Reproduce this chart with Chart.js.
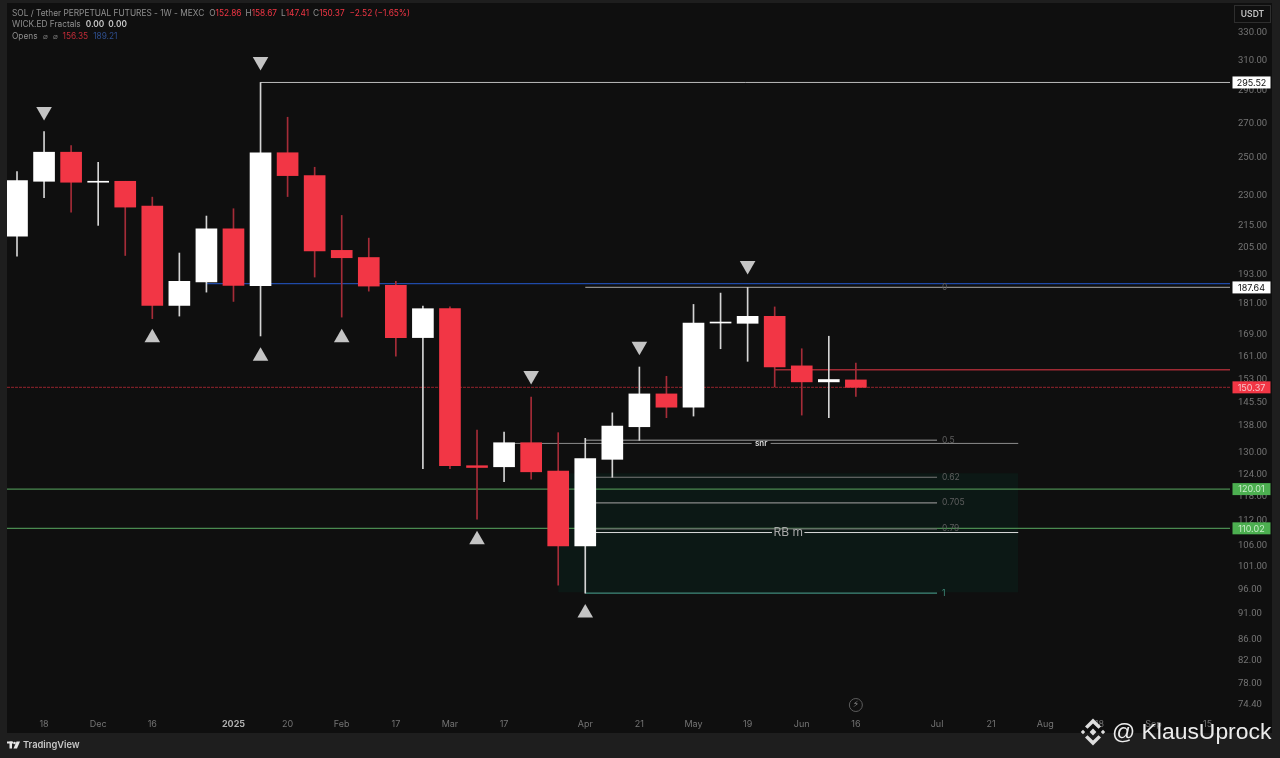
<!DOCTYPE html>
<html><head><meta charset="utf-8">
<script src="https://cdn.jsdelivr.net/npm/chart.js@4"></script>
<style>html,body{margin:0;padding:0;background:#0f0f0f;overflow:hidden}canvas{display:block}</style>
</head><body><canvas id="c" width="1280" height="758"></canvas>
<script>
const opens  = [210.2,237.4,253.2,236.9,237.4,224.7,180.3,189.9,213.7,188.4,252.9,240.4,203.7,200.5,188.5,167.9,179.0,126.4,126.1,133.0,124.9,105.8,128.2,137.8,148.2,143.9,173.4,173.3,176.0,157.7,152.2,152.86];
const closes = [237.8,253.2,236.9,237.4,224.2,180.3,190.2,213.7,188.5,252.9,240.4,203.4,200.4,188.2,167.9,179.0,126.4,125.9,133.0,124.7,105.8,128.4,138.0,148.2,143.9,173.4,173.6,176.0,157.3,152.2,153.0,150.37];
const highs  = [242.6,265.1,257.0,247.6,237.4,229.2,202.5,219.8,223.4,295.52,273.6,244.9,220.1,209.3,190.2,180.0,179.7,136.8,136.2,147.2,136.0,134.3,142.1,157.3,154.1,180.7,185.3,187.64,179.7,163.8,168.4,158.67];
const lows   = [201.1,228.9,221.7,215.3,201.4,175.1,176.1,185.7,181.9,168.5,229.5,192.0,175.7,186.1,161.1,125.6,125.6,112.3,122.0,122.7,97.0,95.3,123.2,133.7,140.6,141.1,163.8,159.3,150.5,141.4,140.6,147.41];
const xTickIndex  = [1,3,5,8,10,12,14,16,18,21,23,25,27,29,31,34,36,38,40,42,44];
const xTickLabels = ['18','Dec','16','2025','20','Feb','17','Mar','17','Apr','21','May','19','Jun','16','Jul','21','Aug','18','Sep','15'];
const yTicks = [330,310,290,270,250,230,215,205,193,181,169,161,153,145.5,138,130,124,118,112,106,101,96,91,86,82,78,74.4];
const fractalUpIdx = [5,9,12,17,21];
const fractalUpVal = [167.8,161.1,167.8,107.3,91.2];
const fractalDownIdx = [1,9,19,23,27];
const fractalDownVal = [277.1,309.5,154.4,164.7,197.0];
const fibLevels = [187.64,133.7,123.2,116.4,109.9,95.3];
const fibNames  = ['0','0.5','0.62','0.705','0.79','1'];
const zoneRange = [20,37,124.3,95.5];
const pricePills = [[295.52,'#ffffff','#111111'],[187.64,'#ffffff','#111111'],[150.37,'#f23645','#f6c6cb'],[120.01,'#4caf50','#c8ecc9'],[110.02,'#4caf50','#c8ecc9']];
const xMin=-0.3695, xMax=44.826, yMin=73.07, yMax=347;
const RED='#f23645', WHITE='#ffffff', BG='#0f0f0f', PANEL='#1e1e1e';
const indices = opens.map((_,i)=>i);
function seg(a,b,v,color,w,extra){return Object.assign({type:'line',data:[{x:a,y:v},{x:b,y:v}],borderColor:color,borderWidth:w||1,pointRadius:0,order:3,fill:false},extra||{});}
const datasets=[
 {type:'scatter',data:fractalUpIdx.map((x,i)=>({x,y:fractalUpVal[i]})),pointStyle:'triangle',pointRadius:9,pointRotation:0,backgroundColor:'#c4c4c4',borderWidth:0,order:0},
 {type:'scatter',data:fractalDownIdx.map((x,i)=>({x,y:fractalDownVal[i]})),pointStyle:'triangle',pointRadius:9,pointRotation:180,backgroundColor:'#c4c4c4',borderWidth:0,order:0},
 {type:'bar',data:indices.map(i=>({x:i,y:[opens[i],closes[i]]})),backgroundColor:indices.map(i=>closes[i]>=opens[i]?WHITE:RED),barThickness:21,grouped:false,minBarLength:1,order:1},
 {type:'bar',data:indices.map(i=>({x:i,y:[lows[i],highs[i]]})),backgroundColor:indices.map(i=>closes[i]>=opens[i]?'#d4d4d4':'#a52c38'),barThickness:1,grouped:false,order:2},
 seg(9,xMax,295.52,'#bdbdbd',1),
 seg(7,xMax,189.21,'#1f4aa8',1.4),
 seg(21,xMax,187.64,'#8a8a8a',1.2),
 seg(21,34,133.7,'#6e6e6e',1.5),
 seg(21,34,123.2,'#777777',1.2),
 seg(21,34,116.4,'#888888',1.2),
 seg(21,34,109.9,'#6a6a6a',1.2),
 seg(21,34,95.3,'#3f8c7c',1.4),
 {type:'line',data:[{x:18,y:132.8},{x:27.15,y:132.8},{x:27.5,y:null},{x:27.85,y:132.8},{x:37,y:132.8}],borderColor:'#8c8c8c',borderWidth:1,pointRadius:0,order:3,fill:false,spanGaps:false},
 {type:'line',data:[{x:21,y:109.0},{x:27.9,y:109.0},{x:28.5,y:null},{x:29.1,y:109.0},{x:37,y:109.0}],borderColor:'#dcdcdc',borderWidth:1,pointRadius:0,order:3,fill:false,spanGaps:false},
 seg(xMin,xMax,120.01,'#4a8a50',1.2),
 seg(xMin,xMax,110.02,'#4a8a50',1.2),
 seg(xMin,xMax,150.37,'#7a1f26',1.4,{borderDash:[3,1]}),
 seg(28,xMax,156.35,'#a02a34',1.3),
 {type:'line',data:[{x:zoneRange[0],y:zoneRange[2]},{x:zoneRange[1],y:zoneRange[2]}],borderWidth:0,pointRadius:0,fill:{value:zoneRange[3]},backgroundColor:'#0c1815',order:4}
];
const textFont=(s,b)=>(b?'600 ':'')+s+'px Inter, Roboto, sans-serif';
function runs(ctx,x,y,items,size){items.forEach(it=>{ctx.font=textFont(size,it[2]);ctx.fillStyle=it[1];ctx.fillText(it[0],x,y);x+=ctx.measureText(it[0]).width+(it[3]||0);});}
const panels={id:'panels',beforeDraw(ch){const c=ch.ctx;c.save();c.fillStyle=BG;c.fillRect(0,0,1280,758);c.fillStyle=PANEL;
 c.fillRect(0,0,7,758);c.fillRect(0,733,1280,25);c.fillRect(1272,0,8,758);c.fillRect(0,0,1280,3);c.restore();}};
const overlay={id:'overlay',afterDraw(ch){const c=ch.ctx,ys=ch.scales.y,xs=ch.scales.x;c.save();c.textBaseline='middle';c.textAlign='left';
 runs(c,12,14,[['SOL / Tether PERPETUAL FUTURES - 1W - MEXC','#8f8f8f',false,5],['O','#8f8f8f'],['152.86',RED,false,4],['H','#8f8f8f'],['158.67',RED,false,4],['L','#8f8f8f'],['147.41',RED,false,4],['C','#8f8f8f'],['150.37',RED,false,5],['\u22122.52 (\u22121.65%)',RED]],8.3);
 runs(c,12,25,[['WICK.ED Fractals','#8f8f8f',false,5],['0.00','#c8c8c8',true,4],['0.00','#c8c8c8',true]],8.3);
 runs(c,12,37,[['Opens','#8f8f8f',false,5],['\u2300','#777777',false,5],['\u2300','#777777',false,5],['156.35','#c22c38',false,5],['189.21','#2f4f8f']],8.3);
 c.font=textFont(8.5);fibLevels.forEach((v,i)=>{c.fillStyle=i===5?'#3f8c7c':'#5e5e5e';c.fillText(fibNames[i],xs.getPixelForValue(34.18),ys.getPixelForValue(v));});
 c.textAlign='center';c.font=textFont(8,true);c.fillStyle='#d8d8d8';c.fillText('snr',xs.getPixelForValue(27.5),ys.getPixelForValue(132.8));
 c.font=textFont(12);c.fillStyle='#a8a8a8';c.fillText('RB m',xs.getPixelForValue(28.5),ys.getPixelForValue(109.0));
 c.font=textFont(9);pricePills.forEach(p=>{const y=ys.getPixelForValue(p[0]);c.fillStyle=p[1];c.fillRect(1232.5,y-6,38,12);c.fillStyle=p[2];c.fillText(p[0].toFixed(2),1251.5,y+0.5);});
 c.strokeStyle='#2e2e2e';c.lineWidth=1;c.strokeRect(1234.5,5.5,36,17);c.font=textFont(8.5,true);c.fillStyle='#c4c4c4';c.fillText('USDT',1252.5,14);
 c.strokeStyle='#5c5c5c';c.beginPath();c.arc(xs.getPixelForValue(31),705,6.5,0,Math.PI*2);c.stroke();
 c.fillStyle='#8a8a8a';c.font='9px "DejaVu Sans"';c.fillText('\u26A1',xs.getPixelForValue(31),705);
 c.fillStyle='#e6e6e6';c.fillRect(7,741.5,6,2);c.fillRect(9.5,741.5,2.5,7);c.beginPath();c.arc(14.5,743,1.3,0,Math.PI*2);c.fill();
 c.beginPath();c.moveTo(16.5,741.5);c.lineTo(20,741.5);c.lineTo(17,748.5);c.lineTo(13.5,748.5);c.fill();
 c.textAlign='left';c.font=textFont(9.3,true);c.fillStyle='#c8c8c8';c.fillText('TradingView',23,745.5);
 c.fillStyle='#dedede';const mx=1093,my=732;
 const dia=(x,y,r)=>{c.beginPath();c.moveTo(x,y-r);c.lineTo(x+r,y);c.lineTo(x,y+r);c.lineTo(x-r,y);c.closePath();c.fill();};
 dia(mx,my,3.4);dia(mx-10,my,2.2);dia(mx+10,my,2.2);
 [-1,1].forEach(s=>{c.beginPath();c.moveTo(mx,my+s*13.5);c.lineTo(mx+8,my+s*5.5);c.lineTo(mx+5.5,my+s*3.2);c.lineTo(mx,my+s*8.5);c.lineTo(mx-5.5,my+s*3.2);c.lineTo(mx-8,my+s*5.5);c.closePath();c.fill();});
 c.font='22.9px "Liberation Sans", Arial, sans-serif';c.fillStyle='#ececec';c.fillText('@ KlausUprock',1112,733);
 c.restore();}};
Chart.defaults.animation=false;
new Chart(document.getElementById('c'),{type:'bar',data:{datasets},plugins:[panels,overlay],options:{
 responsive:false,animation:false,devicePixelRatio:1,
 layout:{autoPadding:false,padding:{left:7,top:10,right:8,bottom:24}},
 plugins:{legend:{display:false},tooltip:{enabled:false},title:{display:false}},
 scales:{
  x:{type:'linear',offset:false,min:xMin,max:xMax,bounds:'data',grid:{display:false,tickLength:0},border:{display:false},
     afterBuildTicks(s){s.ticks=xTickIndex.map(v=>({value:v}));},
     afterFit(s){s.height=21;s.paddingLeft=0;s.paddingRight=0;s.paddingTop=0;s.paddingBottom=0;},
     ticks:{autoSkip:false,maxRotation:0,minRotation:0,padding:6,includeBounds:false,
       callback:(v)=>{const i=xTickIndex.indexOf(v);return i<0?'':xTickLabels[i];},
       color:c=>c.tick&&c.tick.label==='2025'?'#b0b0b0':'#747474',
       font:c=>({family:'Inter, Roboto, sans-serif',size:9,weight:c.tick&&c.tick.label==='2025'?'700':'400'})}},
  y:{type:'logarithmic',position:'right',min:yMin,max:yMax,bounds:'data',grid:{display:false,tickLength:0},border:{display:false},
     afterBuildTicks(s){s.ticks=yTicks.map(v=>({value:v}));},
     afterFit(s){s.width=42;s.paddingLeft=0;s.paddingRight=0;s.paddingTop=0;s.paddingBottom=0;},
     ticks:{autoSkip:false,padding:8,includeBounds:false,color:'#747474',callback:v=>Number(v).toFixed(2),
       font:{family:'Roboto, sans-serif',size:9.5}}}
 }}});
</script></body></html>
